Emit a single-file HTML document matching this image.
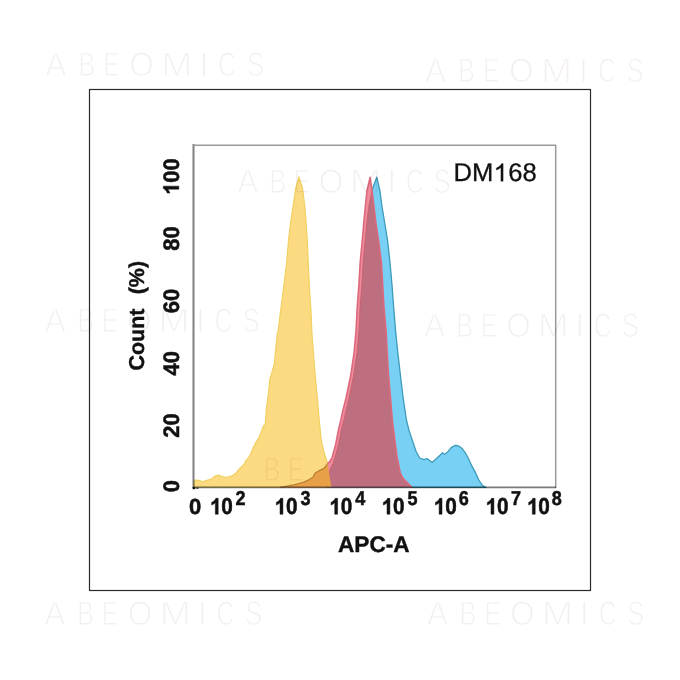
<!DOCTYPE html>
<html><head><meta charset="utf-8">
<style>
html,body{margin:0;padding:0;background:#fff;}
body{width:680px;height:680px;position:relative;overflow:hidden;font-family:"Liberation Sans",sans-serif;}
svg{position:absolute;left:0;top:0;text-rendering:geometricPrecision;}
.wm{font-family:"Liberation Sans",sans-serif;font-size:34px;fill:#f3efef;stroke:#fff;stroke-width:1.2px;mix-blend-mode:multiply;}
.tk{font-family:"Liberation Sans",sans-serif;font-weight:bold;font-size:22px;fill:#111;stroke:#111;stroke-width:0.5px;}
.sp{font-family:"Liberation Sans",sans-serif;font-weight:bold;font-size:20px;fill:#111;stroke:#111;stroke-width:0.5px;}
</style></head><body>
<svg width="680" height="680" viewBox="0 0 680 680">
<defs>
<clipPath id="clipY"><path d="M194,487 L194,481 L195.5,480 L199,480.4 L202.6,481.8 L207,480.4 L211.4,479.1 L215,476 L218.5,475.1 L222,476.5 L225.5,477.4 L229,476.9 L232.6,475.6 L236.1,472.9 L238.8,469.4 L241.4,466.8 L244,464.5 L246.2,460.1 L248.9,457.4 L251.5,452.1 L252.9,448.2 L254.8,444.9 L256.2,441.5 L258.8,438.2 L260.8,432.9 L262.8,427.6 L264.1,425 L265.3,423.5 L266.5,408.2 L268.4,393.5 L269.9,378.8 L271.3,374.4 L274.3,364 L275.7,349.4 L277.2,334.7 L278.2,330 L280.6,311 L283.6,287.6 L286.5,264 L288.5,240.6 L290.6,222.9 L293.2,205.3 L295.9,187.6 L298.8,176.8 L302.4,187.6 L304.7,205.3 L306.1,222.9 L307.3,240.6 L308.3,264 L309.4,287.6 L311,311 L312,334.7 L313.2,349.4 L314.2,364 L316.9,393.5 L317.6,400 L319.2,420 L321.2,440 L322.3,445 L324.2,453 L326.5,460 L327.5,463.5 L328.9,471.5 L329.9,478.1 L331.2,486 L331.5,487.4 Z"/></clipPath>
</defs>
<rect x="89.5" y="89.5" width="501" height="501" fill="none" stroke="#2a2a2a" stroke-width="1.2"/>
<path d="M194,487 L194,481 L195.5,480 L199,480.4 L202.6,481.8 L207,480.4 L211.4,479.1 L215,476 L218.5,475.1 L222,476.5 L225.5,477.4 L229,476.9 L232.6,475.6 L236.1,472.9 L238.8,469.4 L241.4,466.8 L244,464.5 L246.2,460.1 L248.9,457.4 L251.5,452.1 L252.9,448.2 L254.8,444.9 L256.2,441.5 L258.8,438.2 L260.8,432.9 L262.8,427.6 L264.1,425 L265.3,423.5 L266.5,408.2 L268.4,393.5 L269.9,378.8 L271.3,374.4 L274.3,364 L275.7,349.4 L277.2,334.7 L278.2,330 L280.6,311 L283.6,287.6 L286.5,264 L288.5,240.6 L290.6,222.9 L293.2,205.3 L295.9,187.6 L298.8,176.8 L302.4,187.6 L304.7,205.3 L306.1,222.9 L307.3,240.6 L308.3,264 L309.4,287.6 L311,311 L312,334.7 L313.2,349.4 L314.2,364 L316.9,393.5 L317.6,400 L319.2,420 L321.2,440 L322.3,445 L324.2,453 L326.5,460 L327.5,463.5 L328.9,471.5 L329.9,478.1 L331.2,486 L331.5,487.4 Z" fill="#fcda82" stroke="#f0d060" stroke-width="1.2" stroke-linejoin="round"/>
<path d="M327,487.4 L330,470 L333,464 L334.9,458.2 L338.6,444.7 L341.8,428.5 L344,420 L349.2,397.5 L353.8,375 L357.1,352.5 L359.1,330 L360.2,307.5 L361.9,285 L363.2,262.5 L365.3,240 L367,221.5 L369,206 L372.2,190.6 L373.8,185 L376.8,177.2 L379.9,190.6 L381.9,206 L384.5,221.5 L387.5,240 L390,262.5 L392,285 L393.7,307.5 L395.5,330 L397.8,352.5 L400.4,375 L403.1,397.5 L406.4,420 L409.1,430.6 L412.6,441.2 L416.2,451.8 L419.7,458 L424.1,459.7 L426.8,458.5 L429.4,460.2 L432,462.4 L436.5,458.5 L440,455.3 L442.6,452.6 L444.4,454.4 L447.9,451.8 L451.2,447.6 L455.2,445.3 L458.6,446 L461.8,448.2 L465,452.4 L468.2,458 L471.8,465.9 L475.6,472.9 L478.8,480 L482.3,485.3 L485.9,487.4 Z" fill="#78d1f4" stroke="#3c9ab8" stroke-width="1.3" stroke-linejoin="round"/>
<clipPath id="clipB"><path d="M327,487.4 L330,470 L333,464 L334.9,458.2 L338.6,444.7 L341.8,428.5 L344,420 L349.2,397.5 L353.8,375 L357.1,352.5 L359.1,330 L360.2,307.5 L361.9,285 L363.2,262.5 L365.3,240 L367,221.5 L369,206 L372.2,190.6 L373.8,185 L376.8,177.2 L379.9,190.6 L381.9,206 L384.5,221.5 L387.5,240 L390,262.5 L392,285 L393.7,307.5 L395.5,330 L397.8,352.5 L400.4,375 L403.1,397.5 L406.4,420 L409.1,430.6 L412.6,441.2 L416.2,451.8 L419.7,458 L424.1,459.7 L426.8,458.5 L429.4,460.2 L432,462.4 L436.5,458.5 L440,455.3 L442.6,452.6 L444.4,454.4 L447.9,451.8 L451.2,447.6 L455.2,445.3 L458.6,446 L461.8,448.2 L465,452.4 L468.2,458 L471.8,465.9 L475.6,472.9 L478.8,480 L482.3,485.3 L485.9,487.4 Z"/></clipPath>
<path d="M280,487.4 L283.5,486.8 L288.8,485.9 L294.1,484.7 L298.8,483.5 L304.7,481.8 L309.4,479.4 L312.9,477.1 L315.3,472.9 L316.6,472.2 L320,470.3 L323.2,468.8 L325.9,466.2 L327.5,463.5 L329.2,462.2 L331.9,458.2 L335.6,444.7 L338.8,428.5 L340.9,420 L342.4,412.4 L346.2,397.5 L350.8,375 L354.1,352.5 L356.1,330 L357.2,307.5 L358.9,285 L360.2,262.5 L362.3,240 L363.2,230 L363.9,221.5 L365.4,206 L367,190.6 L370.1,177.4 L372.1,190.6 L373.9,206 L375.7,221.5 L378.5,240 L381.4,262.5 L382.7,285 L384,307.5 L386,330 L387.2,352.5 L388.5,375 L390.5,397.5 L392.3,420 L396.8,455.3 L400.3,473 L403,478.2 L408.2,483.5 L411.8,487.4 Z" fill="#ef8c9c"/>
<g clip-path="url(#clipB)"><path d="M280,487.4 L283.5,486.8 L288.8,485.9 L294.1,484.7 L298.8,483.5 L304.7,481.8 L309.4,479.4 L312.9,477.1 L315.3,472.9 L316.6,472.2 L320,470.3 L323.2,468.8 L325.9,466.2 L327.5,463.5 L329.2,462.2 L331.9,458.2 L335.6,444.7 L338.8,428.5 L340.9,420 L342.4,412.4 L346.2,397.5 L350.8,375 L354.1,352.5 L356.1,330 L357.2,307.5 L358.9,285 L360.2,262.5 L362.3,240 L363.2,230 L363.9,221.5 L365.4,206 L367,190.6 L370.1,177.4 L372.1,190.6 L373.9,206 L375.7,221.5 L378.5,240 L381.4,262.5 L382.7,285 L384,307.5 L386,330 L387.2,352.5 L388.5,375 L390.5,397.5 L392.3,420 L396.8,455.3 L400.3,473 L403,478.2 L408.2,483.5 L411.8,487.4 Z" fill="#bd6f80"/></g>
<clipPath id="clipR"><path d="M280,487.4 L283.5,486.8 L288.8,485.9 L294.1,484.7 L298.8,483.5 L304.7,481.8 L309.4,479.4 L312.9,477.1 L315.3,472.9 L316.6,472.2 L320,470.3 L323.2,468.8 L325.9,466.2 L327.5,463.5 L329.2,462.2 L331.9,458.2 L335.6,444.7 L338.8,428.5 L340.9,420 L342.4,412.4 L346.2,397.5 L350.8,375 L354.1,352.5 L356.1,330 L357.2,307.5 L358.9,285 L360.2,262.5 L362.3,240 L363.2,230 L363.9,221.5 L365.4,206 L367,190.6 L370.1,177.4 L372.1,190.6 L373.9,206 L375.7,221.5 L378.5,240 L381.4,262.5 L382.7,285 L384,307.5 L386,330 L387.2,352.5 L388.5,375 L390.5,397.5 L392.3,420 L396.8,455.3 L400.3,473 L403,478.2 L408.2,483.5 L411.8,487.4 Z"/></clipPath>
<g clip-path="url(#clipR)"><path d="M327,487.4 L330,470 L333,464 L334.9,458.2 L338.6,444.7 L341.8,428.5 L344,420 L349.2,397.5 L353.8,375 L357.1,352.5 L359.1,330 L360.2,307.5 L361.9,285 L363.2,262.5 L365.3,240 L367,221.5 L369,206 L372.2,190.6 L373.8,185 L376.8,177.2 L379.9,190.6 L381.9,206 L384.5,221.5 L387.5,240 L390,262.5 L392,285 L393.7,307.5 L395.5,330 L397.8,352.5 L400.4,375 L403.1,397.5 L406.4,420 L409.1,430.6 L412.6,441.2 L416.2,451.8 L419.7,458 L424.1,459.7 L426.8,458.5 L429.4,460.2 L432,462.4 L436.5,458.5 L440,455.3 L442.6,452.6 L444.4,454.4 L447.9,451.8 L451.2,447.6 L455.2,445.3 L458.6,446 L461.8,448.2 L465,452.4 L468.2,458 L471.8,465.9 L475.6,472.9 L478.8,480 L482.3,485.3 L485.9,487.4" fill="none" stroke="#c86474" stroke-width="1.2"/></g>
<path d="M280,487.4 L283.5,486.8 L288.8,485.9 L294.1,484.7 L298.8,483.5 L304.7,481.8 L309.4,479.4 L312.9,477.1 L315.3,472.9 L316.6,472.2 L320,470.3 L323.2,468.8 L325.9,466.2 L327.5,463.5 L329.2,462.2 L331.9,458.2 L335.6,444.7 L338.8,428.5 L340.9,420 L342.4,412.4 L346.2,397.5 L350.8,375 L354.1,352.5 L356.1,330 L357.2,307.5 L358.9,285 L360.2,262.5 L362.3,240 L363.2,230 L363.9,221.5 L365.4,206 L367,190.6 L370.1,177.4 L372.1,190.6 L373.9,206 L375.7,221.5 L378.5,240 L381.4,262.5 L382.7,285 L384,307.5 L386,330 L387.2,352.5 L388.5,375 L390.5,397.5 L392.3,420 L396.8,455.3 L400.3,473 L403,478.2 L408.2,483.5 L411.8,487.4" fill="none" stroke="#dc6a7c" stroke-width="1.6" stroke-linejoin="round"/>
<g clip-path="url(#clipY)"><path d="M280,487.4 L283.5,486.8 L288.8,485.9 L294.1,484.7 L298.8,483.5 L304.7,481.8 L309.4,479.4 L312.9,477.1 L315.3,472.9 L316.6,472.2 L320,470.3 L323.2,468.8 L325.9,466.2 L327.5,463.5 L329.2,462.2 L331.9,458.2 L335.6,444.7 L338.8,428.5 L340.9,420 L342.4,412.4 L346.2,397.5 L350.8,375 L354.1,352.5 L356.1,330 L357.2,307.5 L358.9,285 L360.2,262.5 L362.3,240 L363.2,230 L363.9,221.5 L365.4,206 L367,190.6 L370.1,177.4 L372.1,190.6 L373.9,206 L375.7,221.5 L378.5,240 L381.4,262.5 L382.7,285 L384,307.5 L386,330 L387.2,352.5 L388.5,375 L390.5,397.5 L392.3,420 L396.8,455.3 L400.3,473 L403,478.2 L408.2,483.5 L411.8,487.4" fill="none" stroke="#fcda82" stroke-width="2.6"/><path d="M280,487.4 L283.5,486.8 L288.8,485.9 L294.1,484.7 L298.8,483.5 L304.7,481.8 L309.4,479.4 L312.9,477.1 L315.3,472.9 L316.6,472.2 L320,470.3 L323.2,468.8 L325.9,466.2 L327.5,463.5 L329.2,462.2 L331.9,458.2 L335.6,444.7 L338.8,428.5 L340.9,420 L342.4,412.4 L346.2,397.5 L350.8,375 L354.1,352.5 L356.1,330 L357.2,307.5 L358.9,285 L360.2,262.5 L362.3,240 L363.2,230 L363.9,221.5 L365.4,206 L367,190.6 L370.1,177.4 L372.1,190.6 L373.9,206 L375.7,221.5 L378.5,240 L381.4,262.5 L382.7,285 L384,307.5 L386,330 L387.2,352.5 L388.5,375 L390.5,397.5 L392.3,420 L396.8,455.3 L400.3,473 L403,478.2 L408.2,483.5 L411.8,487.4 Z" fill="#e8a048"/><path d="M280,487.4 L283.5,486.8 L288.8,485.9 L294.1,484.7 L298.8,483.5 L304.7,481.8 L309.4,479.4 L312.9,477.1 L315.3,472.9 L316.6,472.2 L320,470.3 L323.2,468.8 L325.9,466.2 L327.5,463.5 L329.2,462.2 L331.9,458.2 L335.6,444.7 L338.8,428.5 L340.9,420 L342.4,412.4 L346.2,397.5 L350.8,375 L354.1,352.5 L356.1,330 L357.2,307.5 L358.9,285 L360.2,262.5 L362.3,240 L363.2,230 L363.9,221.5 L365.4,206 L367,190.6 L370.1,177.4 L372.1,190.6 L373.9,206 L375.7,221.5 L378.5,240 L381.4,262.5 L382.7,285 L384,307.5 L386,330 L387.2,352.5 L388.5,375 L390.5,397.5 L392.3,420 L396.8,455.3 L400.3,473 L403,478.2 L408.2,483.5 L411.8,487.4" fill="none" stroke="#b07828" stroke-width="1.1" stroke-linejoin="round"/></g>
<line x1="193.5" y1="144" x2="193.5" y2="488" stroke="#808080" stroke-width="2" style="mix-blend-mode:multiply"/>
<line x1="193" y1="145.2" x2="556" y2="145.2" stroke="#9a9a9a" stroke-width="1.5"/>
<line x1="555.7" y1="145" x2="555.7" y2="488" stroke="#9a9a9a" stroke-width="1.5"/>
<line x1="193" y1="487.4" x2="556" y2="487.4" stroke="#7a7a7a" stroke-width="1.8" style="mix-blend-mode:multiply"/>
<rect x="192.6" y="487" width="2.6" height="2.2" fill="#111"/><rect x="196.4" y="487.3" width="2" height="1.6" fill="#333"/>
<g class="tk">
<g transform="translate(178.8,176.7) rotate(-90) scale(1,1.02)"><path d="M827 0H546V1013Q392 876 183 810V1054Q293 1088 422 1184Q551 1281 599 1409H827Z" transform="translate(-18.35,0) scale(0.010742,-0.010742)" vector-effect="non-scaling-stroke"/><text x="-6.115" style="font-size:22px">00</text></g>
<text transform="translate(178.8,238.4) rotate(-90) scale(1,1.02)" text-anchor="middle" style="font-size:22px">80</text>
<text transform="translate(178.8,301) rotate(-90) scale(1,1.02)" text-anchor="middle" style="font-size:22px">60</text>
<text transform="translate(178.8,363.3) rotate(-90) scale(1,1.02)" text-anchor="middle" style="font-size:22px">40</text>
<text transform="translate(178.8,425.5) rotate(-90) scale(1,1.02)" text-anchor="middle" style="font-size:22px">20</text>
<text transform="translate(178.8,486.2) rotate(-90) scale(1,1.02)" text-anchor="middle" style="font-size:22px">0</text>
</g>
<text transform="translate(144,370.6) rotate(-90)" style="font-weight:bold;font-size:21.5px;fill:#111;stroke:#111;stroke-width:0.4px">Count</text>
<text transform="translate(144,294.3) rotate(-90)" style="font-weight:bold;font-size:21.5px;fill:#111;stroke:#111;stroke-width:0.4px">(%)</text>
<g class="tk">
<text x="189" y="514">0</text>
<g transform="translate(209.8,514.2) scale(0.945,1.05)"><path d="M827 0H546V1013Q392 876 183 810V1054Q293 1088 422 1184Q551 1281 599 1409H827Z" transform="scale(0.010742,-0.010742)" vector-effect="non-scaling-stroke"/><text x="12.235" style="font-size:22px">0</text></g>
<g transform="translate(274.5,514.2) scale(0.945,1.05)"><path d="M827 0H546V1013Q392 876 183 810V1054Q293 1088 422 1184Q551 1281 599 1409H827Z" transform="scale(0.010742,-0.010742)" vector-effect="non-scaling-stroke"/><text x="12.235" style="font-size:22px">0</text></g>
<g transform="translate(329.2,514.2) scale(0.945,1.05)"><path d="M827 0H546V1013Q392 876 183 810V1054Q293 1088 422 1184Q551 1281 599 1409H827Z" transform="scale(0.010742,-0.010742)" vector-effect="non-scaling-stroke"/><text x="12.235" style="font-size:22px">0</text></g>
<g transform="translate(381.5,514.2) scale(0.945,1.05)"><path d="M827 0H546V1013Q392 876 183 810V1054Q293 1088 422 1184Q551 1281 599 1409H827Z" transform="scale(0.010742,-0.010742)" vector-effect="non-scaling-stroke"/><text x="12.235" style="font-size:22px">0</text></g>
<g transform="translate(433.6,514.2) scale(0.945,1.05)"><path d="M827 0H546V1013Q392 876 183 810V1054Q293 1088 422 1184Q551 1281 599 1409H827Z" transform="scale(0.010742,-0.010742)" vector-effect="non-scaling-stroke"/><text x="12.235" style="font-size:22px">0</text></g>
<g transform="translate(485.5,514.2) scale(0.945,1.05)"><path d="M827 0H546V1013Q392 876 183 810V1054Q293 1088 422 1184Q551 1281 599 1409H827Z" transform="scale(0.010742,-0.010742)" vector-effect="non-scaling-stroke"/><text x="12.235" style="font-size:22px">0</text></g>
<g transform="translate(526.8,514.2) scale(0.945,1.05)"><path d="M827 0H546V1013Q392 876 183 810V1054Q293 1088 422 1184Q551 1281 599 1409H827Z" transform="scale(0.010742,-0.010742)" vector-effect="non-scaling-stroke"/><text x="12.235" style="font-size:22px">0</text></g>
</g>
<g class="sp">
<text transform="translate(235.6,505.4) scale(0.9,1)">2</text>
<text transform="translate(300.5,505.4) scale(0.9,1)">3</text>
<text transform="translate(355.2,505.4) scale(0.9,1)">4</text>
<text transform="translate(407.4,505.4) scale(0.9,1)">5</text>
<text transform="translate(458.8,505.4) scale(0.9,1)">6</text>
<text transform="translate(510.9,505.4) scale(0.9,1)">7</text>
<text transform="translate(551.8,505.4) scale(0.9,1)">8</text>
</g>
<text x="338" y="552.3" style="font-weight:bold;font-size:22.6px;fill:#111;stroke:#111;stroke-width:0.4px">APC-A</text>
<g style="fill:#111;stroke:#111;stroke-width:0.3px"><text x="453.5" y="181.2" style="font-size:25.6px">DM</text><path d="M763 0H583V1098Q518 1038 412.5 979Q307 920 223 890V1057Q374 1125 487 1221Q600 1318 647 1409H763Z" transform="translate(493.6,181.2) scale(0.0125,-0.0125)" vector-effect="non-scaling-stroke"/><text x="508.3" y="181.2" style="font-size:25.6px">68</text></g>
<g class="wm">
<text transform="translate(55.9,75.5) scale(0.93,1)" text-anchor="middle">A</text>
<text transform="translate(86.8,75.5) scale(0.75,1)" text-anchor="middle">B</text>
<text transform="translate(111.5,75.5) scale(0.72,1)" text-anchor="middle">E</text>
<text transform="translate(141.5,75.5) scale(0.93,1)" text-anchor="middle">O</text>
<text transform="translate(176.9,75.5) scale(1.1,1)" text-anchor="middle">M</text>
<text transform="translate(203.9,75.5) scale(1,1)" text-anchor="middle">I</text>
<text transform="translate(227.2,75.5) scale(0.72,1)" text-anchor="middle">C</text>
<text transform="translate(255.5,75.5) scale(0.76,1)" text-anchor="middle">S</text>
<text transform="translate(435.6,81.5) scale(0.93,1)" text-anchor="middle">A</text>
<text transform="translate(466.4,81.5) scale(0.75,1)" text-anchor="middle">B</text>
<text transform="translate(491.1,81.5) scale(0.72,1)" text-anchor="middle">E</text>
<text transform="translate(521.2,81.5) scale(0.93,1)" text-anchor="middle">O</text>
<text transform="translate(556.6,81.5) scale(1.1,1)" text-anchor="middle">M</text>
<text transform="translate(583.5,81.5) scale(1,1)" text-anchor="middle">I</text>
<text transform="translate(606.9,81.5) scale(0.72,1)" text-anchor="middle">C</text>
<text transform="translate(635.2,81.5) scale(0.76,1)" text-anchor="middle">S</text>
<text transform="translate(55.4,332) scale(0.93,1)" text-anchor="middle">A</text>
<text transform="translate(85.7,332) scale(0.75,1)" text-anchor="middle">B</text>
<text transform="translate(109.9,332) scale(0.72,1)" text-anchor="middle">E</text>
<text transform="translate(139.3,332) scale(0.93,1)" text-anchor="middle">O</text>
<text transform="translate(174.1,332) scale(1.1,1)" text-anchor="middle">M</text>
<text transform="translate(200.5,332) scale(1,1)" text-anchor="middle">I</text>
<text transform="translate(223.4,332) scale(0.72,1)" text-anchor="middle">C</text>
<text transform="translate(251.1,332) scale(0.76,1)" text-anchor="middle">S</text>
<text transform="translate(434.5,337) scale(0.93,1)" text-anchor="middle">A</text>
<text transform="translate(464.8,337) scale(0.75,1)" text-anchor="middle">B</text>
<text transform="translate(489.0,337) scale(0.72,1)" text-anchor="middle">E</text>
<text transform="translate(518.5,337) scale(0.93,1)" text-anchor="middle">O</text>
<text transform="translate(553.2,337) scale(1.1,1)" text-anchor="middle">M</text>
<text transform="translate(579.7,337) scale(1,1)" text-anchor="middle">I</text>
<text transform="translate(602.6,337) scale(0.72,1)" text-anchor="middle">C</text>
<text transform="translate(630.3,337) scale(0.76,1)" text-anchor="middle">S</text>
<text transform="translate(54.7,624.5) scale(0.93,1)" text-anchor="middle">A</text>
<text transform="translate(85.4,624.5) scale(0.75,1)" text-anchor="middle">B</text>
<text transform="translate(110.0,624.5) scale(0.72,1)" text-anchor="middle">E</text>
<text transform="translate(140.0,624.5) scale(0.93,1)" text-anchor="middle">O</text>
<text transform="translate(175.3,624.5) scale(1.1,1)" text-anchor="middle">M</text>
<text transform="translate(202.1,624.5) scale(1,1)" text-anchor="middle">I</text>
<text transform="translate(225.4,624.5) scale(0.72,1)" text-anchor="middle">C</text>
<text transform="translate(253.6,624.5) scale(0.76,1)" text-anchor="middle">S</text>
<text transform="translate(437.5,624.5) scale(0.93,1)" text-anchor="middle">A</text>
<text transform="translate(468.1,624.5) scale(0.75,1)" text-anchor="middle">B</text>
<text transform="translate(492.6,624.5) scale(0.72,1)" text-anchor="middle">E</text>
<text transform="translate(522.4,624.5) scale(0.93,1)" text-anchor="middle">O</text>
<text transform="translate(557.6,624.5) scale(1.1,1)" text-anchor="middle">M</text>
<text transform="translate(584.3,624.5) scale(1,1)" text-anchor="middle">I</text>
<text transform="translate(607.5,624.5) scale(0.72,1)" text-anchor="middle">C</text>
<text transform="translate(635.6,624.5) scale(0.76,1)" text-anchor="middle">S</text>
<text transform="translate(247.7,192.5) scale(0.93,1)" text-anchor="middle">A</text>
<text transform="translate(277.8,192.5) scale(0.75,1)" text-anchor="middle">B</text>
<text transform="translate(301.8,192.5) scale(0.72,1)" text-anchor="middle">E</text>
<text transform="translate(331.1,192.5) scale(0.93,1)" text-anchor="middle">O</text>
<text transform="translate(365.6,192.5) scale(1.1,1)" text-anchor="middle">M</text>
<text transform="translate(391.8,192.5) scale(1,1)" text-anchor="middle">I</text>
<text transform="translate(414.5,192.5) scale(0.72,1)" text-anchor="middle">C</text>
<text transform="translate(442.1,192.5) scale(0.76,1)" text-anchor="middle">S</text>
<text transform="translate(271.9,481) scale(0.75,1)" text-anchor="middle">B</text>
<text transform="translate(295.9,481) scale(0.72,1)" text-anchor="middle">E</text>
</g>
</svg>
</body></html>
